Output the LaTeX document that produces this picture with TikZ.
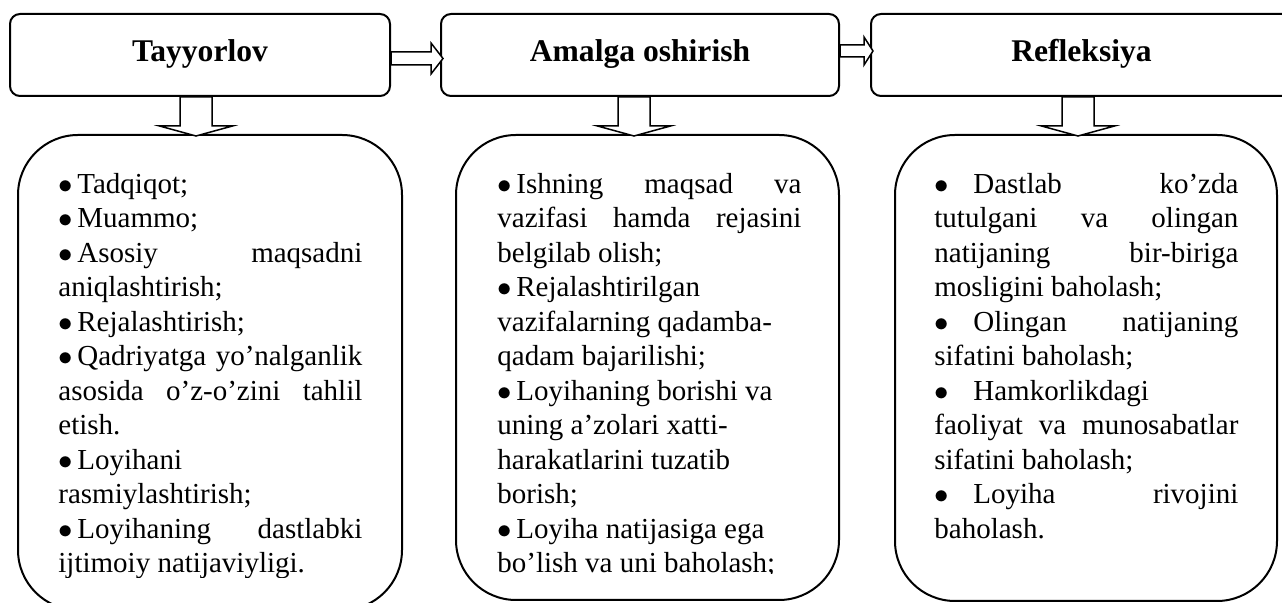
\documentclass[tikz,border=0pt]{standalone}
\usepackage{fontspec}
\setmainfont{Liberation Serif}
\usetikzlibrary{calc}
\tikzset{
  topbox/.style={draw, line width=1pt, rounded corners=5pt, minimum height=41pt, inner sep=0pt,
    font=\fontsize{15.8}{19}\selectfont\bfseries, text height=10.5pt, text depth=3.5pt},
  lowbox/.style={draw, line width=1pt, rounded corners=30pt, inner sep=0pt},
  blockarrow/.style={draw, fill=white, line width=0.75pt, line join=miter},
  bodytext/.style={anchor=north west, inner sep=0pt, text width=152pt,
    font=\fontsize{14.5}{17.25}\selectfont},
}
\newcommand\itembul{\makebox[9.5pt][l]{$\bullet$}}
\newcommand\itembulw{\makebox[19.5pt][l]{$\bullet$}}
\newcommand\justln[2]{\makebox[#1][s]{\spaceskip=0pt\xspaceskip=0pt\relax #2}}
\newcommand\resetsp{\spaceskip=0pt\xspaceskip=0pt\parindent=0pt\relax}
\begin{document}
\begin{tikzpicture}[x=0.5pt,y=-0.5pt]
\useasboundingbox (0,0) rectangle (1282,603);
\clip (0,0) rectangle (1282,603);

% top boxes
\node[topbox, minimum width=190pt] (t1) at (200,55) {Tayyorlov};
\node[topbox, minimum width=199pt] (t2) at (640,55) {Amalga oshirish};
\node[topbox, minimum width=210.5pt] (t3) at (1081.5,55) {Refleksiya};

% lower boxes
\node[lowbox, minimum width=192pt, minimum height=237.5pt] (b1) at (210,372.5) {};
\node[lowbox, minimum width=191.5pt, minimum height=232.5pt] (b2) at (647.5,367.5) {};
\node[lowbox, minimum width=191pt, minimum height=233pt] (b3) at (1086,368) {};

% horizontal block arrows
\draw[blockarrow] ($(t1.east)+(0,-3)$) -- ++(40,0) -- ++(0,-9) -- ++(12,15.5) -- ++(-12,15.5) -- ++(0,-9) -- ++(-40,0) -- cycle;
\draw[blockarrow] ($(t2.east)+(0,-10)$) -- ++(24,0) -- ++(0,-8) -- ++(9,14) -- ++(-9,14) -- ++(0,-8) -- ++(-24,0) -- cycle;

% downward block arrows
\draw[blockarrow] ($(t1.south)+(-20,0)$) -- ++(0,29) -- ++(-20.5,0) -- ++(36.5,10) -- ++(36.5,-10) -- ++(-20.5,0) -- ++(0,-29) -- cycle;
\draw[blockarrow] ($(t2.south)+(-22,0)$) -- ++(0,29) -- ++(-20.5,0) -- ++(36.5,10) -- ++(36.5,-10) -- ++(-20.5,0) -- ++(0,-29) -- cycle;
\draw[blockarrow] ($(t3.south)+(-19.5,0)$) -- ++(0,29) -- ++(-20.5,0) -- ++(36.5,10) -- ++(36.5,-10) -- ++(-20.5,0) -- ++(0,-29) -- cycle;

% texts
\begin{scope}
\clip (0,0) rectangle (1282,578);
\node[bodytext] (x1) at (58,168.9) {\resetsp
\strut\itembul Tadqiqot;\\
\itembul Muammo;\\
\itembul\justln{142.5pt}{Asosiy maqsadni}\\
aniqlashtirish;\\
\itembul Rejalashtirish;\\
\itembul\justln{142.5pt}{Qadriyatga yo’nalganlik}\\
\justln{152pt}{asosida o’z-o’zini tahlil}\\
etish.\\
\itembul Loyihani\\
rasmiylashtirish;\\
\itembul\justln{142.5pt}{Loyihaning dastlabki}\\
ijtimoiy natijaviyligi.};
\end{scope}

\begin{scope}
\clip (0,0) rectangle (1282,574);
\node[bodytext] (x2) at (497,168.9) {\resetsp
\strut\itembul\justln{142.5pt}{Ishning maqsad va}\\
\justln{152pt}{vazifasi hamda rejasini}\\
belgilab olish;\\
\itembul Rejalashtirilgan\\
vazifalarning qadamba-\\
qadam bajarilishi;\\
\itembul Loyihaning borishi va\\
uning a’zolari xatti-\\
harakatlarini tuzatib\\
borish;\\
\itembul Loyiha natijasiga ega\\
bo’lish va uni baholash;};
\end{scope}

\node[bodytext] (x3) at (934,168.9) {\resetsp
\strut\itembulw\justln{132.5pt}{Dastlab ko’zda}\\
\justln{152pt}{tutulgani va olingan}\\
\justln{152pt}{natijaning bir-biriga}\\
mosligini baholash;\\
\itembulw\justln{132.5pt}{Olingan natijaning}\\
sifatini baholash;\\
\itembulw Hamkorlikdagi\\
\justln{152pt}{faoliyat va munosabatlar}\\
sifatini baholash;\\
\itembulw\justln{132.5pt}{Loyiha rivojini}\\
baholash.};
\end{tikzpicture}
\end{document}
